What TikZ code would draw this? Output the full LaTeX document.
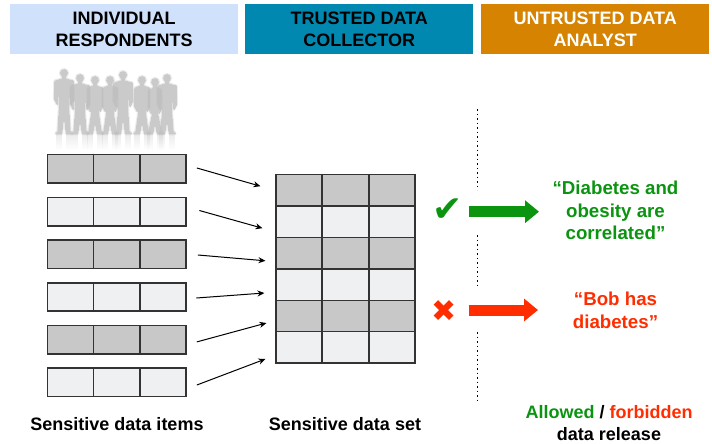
\documentclass[tikz,border=0pt]{standalone}
\usepackage{fontspec}
\setmainfont{Liberation Sans}
\newfontfamily\symfont{DejaVu Sans}
\usetikzlibrary{arrows.meta,fadings,calc}
\definecolor{hblue}{HTML}{D0E1FB}
\definecolor{hteal}{HTML}{0088B0}
\definecolor{horange}{HTML}{D58300}
\definecolor{cdark}{HTML}{C8C8C8}
\definecolor{clight}{HTML}{EFF0F2}
\definecolor{cedge}{HTML}{333333}
\definecolor{okgreen}{HTML}{0A9410}
\definecolor{nored}{HTML}{FF2D00}
\definecolor{crowd}{HTML}{BDBDBD}
\tikzset{
  header/.style={minimum width=228pt,minimum height=50pt,inner sep=0pt,anchor=north west,align=center,
    font=\fontsize{18}{22}\selectfont\bfseries},
  rowbox/.style={draw=cedge,line width=1.6pt,inner sep=0pt,minimum width=138.5pt,minimum height=#1},
  rowbox/.default=28.5pt,
  divider/.style={draw=cedge,line width=1.6pt},
  conn/.style={draw=black,line width=1pt,-{Stealth[length=7pt,width=6pt]}},
  fat/.style={line width=11pt,-{Triangle[length=14pt,width=22pt]}},
  sep/.style={draw=black,line width=1.6pt,dash pattern=on 1.8pt off 2.7pt},
  caption/.style={font=\fontsize{18}{22}\selectfont\bfseries,align=center,inner sep=0pt},
  quote/.style={font=\fontsize{18.7}{22.7}\selectfont\bfseries,align=center,inner sep=0pt},
}
\newcommand{\personpath}[4]{% centre x, head y, shoulder half width, line width
  \path[fill=crowd,draw=crowd,line join=round,line width=#4]
    (#1,#2) circle (3.4)
    (#1-1.5,#2+3) -- (#1+1.5,#2+3) -- (#1+1.5,#2+6)
    -- ({#1+#3},#2+8) -- ({#1+#3+0.5},#2+26) -- ({#1+#3-2},#2+31) -- ({#1+#3-3.5},#2+14)
    -- ({#1+0.5*#3},#2+34) -- ({#1+6},131) -- ({#1+8},133.5) -- ({#1+2.5},133.5)
    -- (#1,#2+40) -- ({#1-2.5},133.5) -- ({#1-8},133.5) -- ({#1-6},131)
    -- ({#1-0.5*#3},#2+34) -- ({#1-#3+3.5},#2+14) -- ({#1-#3+2},#2+31) -- ({#1-#3-0.5},#2+26)
    -- ({#1-#3},#2+8) -- (#1-1.5,#2+6) -- cycle;
}
\newcommand{\person}[3]{%
  \begin{scope}[opacity=.22,transparency group]\personpath{#1}{#2}{#3}{3.5pt}\end{scope}
  \begin{scope}[opacity=.35,transparency group]\personpath{#1}{#2}{#3}{2pt}\end{scope}
  \begin{scope}[opacity=.6,transparency group]\personpath{#1}{#2}{#3}{0pt}\end{scope}
  \fill[crowd,opacity=.3,path fading=south] ({#1-8},134) rectangle ({#1-2},150);
  \fill[crowd,opacity=.3,path fading=south] ({#1+2},134) rectangle ({#1+8},150);
}
\begin{document}
\begin{tikzpicture}[x=1pt,y=-1pt]
\useasboundingbox (0,0) rectangle (712,444);
% headers
\node[header,fill=hblue,text=black] (h1) at (10,4) {INDIVIDUAL\\RESPONDENTS};
\node[header,fill=hteal,text=black] (h2) at (245,4) {TRUSTED DATA\\COLLECTOR};
\node[header,fill=horange,text=white] (h3) at (481,4) {UNTRUSTED DATA\\ANALYST};
% crowd
\person{64}{73}{9}
\person{80}{78}{9}
\person{95}{80}{7}
\person{110}{80}{7}
\person{123}{75}{9}
\person{142}{80}{7}
\person{155}{82}{6}
\person{167}{78}{9}
% respondents' rows
\foreach \i/\y/\c in {1/168.7/cdark,2/211.7/clight,3/254.2/cdark,4/297/clight,5/339.9/cdark,6/382.3/clight}{
  \node[rowbox,fill=\c] (r\i) at (116.8,\y) {};
  \draw[divider] ($(r\i.north west)!0.3333!(r\i.north east)$) -- ($(r\i.south west)!0.3333!(r\i.south east)$);
  \draw[divider] ($(r\i.north west)!0.6667!(r\i.north east)$) -- ($(r\i.south west)!0.6667!(r\i.south east)$);
}
% data set rows
\foreach \i/\y/\c in {1/190.2/cdark,2/221.7/clight,3/253.3/cdark,4/284.7/clight,5/316/cdark,6/347.3/clight}{
  \node[rowbox=31.4pt,fill=\c] (t\i) at (345.5,\y) {};
  \draw[divider] ($(t\i.north west)!0.3333!(t\i.north east)$) -- ($(t\i.south west)!0.3333!(t\i.south east)$);
  \draw[divider] ($(t\i.north west)!0.6667!(t\i.north east)$) -- ($(t\i.south west)!0.6667!(t\i.south east)$);
}
% connectors
\draw[conn] ([shift={(10,-0.7)}]r1.east) -- ([shift={(-15,-4)}]t1.west);
\draw[conn] ([shift={(12.5,-1.2)}]r2.east) -- ([shift={(-13,6.5)}]t2.west);
\draw[conn] ([shift={(11,0.8)}]r3.east) -- ([shift={(-10,7.5)}]t3.west);
\draw[conn] ([shift={(9.5,1)}]r4.east) -- ([shift={(-11,8.3)}]t4.west);
\draw[conn] ([shift={(10,2)}]r5.east) -- ([shift={(-9,7)}]t5.west);
\draw[conn] ([shift={(10,2.7)}]r6.east) -- ([shift={(-10,11.7)}]t6.west);
% separator
\coordinate (s1a) at (477.5,109); \coordinate (s1b) at (477.5,190);
\coordinate (s2a) at (477.5,235); \coordinate (s2b) at (477.5,286);
\coordinate (s3a) at (477.5,332); \coordinate (s3b) at (477.5,400);
\draw[sep] (s1a) -- (s1b);
\draw[sep] (s2a) -- (s2b);
\draw[sep] (s3a) -- (s3b);
% release
\node[text=okgreen,inner sep=0pt,font=\symfont\fontsize{36}{36}\selectfont] (chk) at (447.5,210.5) {✔};
\node[text=nored,inner sep=0pt,font=\symfont\fontsize{30}{30}\selectfont] (crs) at (444.5,311) {✖};
\node[quote,text=okgreen] (q1) at (615.5,210.5) {“Diabetes and\\obesity are\\correlated”};
\node[quote,text=nored] (q2) at (615.5,310.5) {“Bob has\\diabetes”};
\coordinate (g1) at (469,211.7); \coordinate (g2) at (539,211.7);
\coordinate (n1) at (468.5,310); \coordinate (n2) at (538,310);
\draw[fat,okgreen] (g1) -- (g2);
\draw[fat,nored] (n1) -- (n2);
% captions
\node[caption] (c1) at (117,424) {Sensitive data items};
\node[caption] (c2) at (345,424) {Sensitive data set};
\node[caption] (c3) at (609,423.5) {\textcolor{okgreen}{Allowed} / \textcolor{nored}{forbidden}\\data release};
\end{tikzpicture}
\end{document}
